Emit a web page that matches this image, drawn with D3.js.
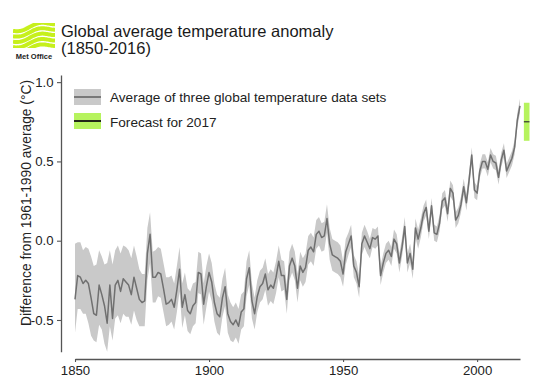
<!DOCTYPE html>
<html>
<head>
<meta charset="utf-8">
<script src="https://cdn.jsdelivr.net/npm/d3@7"></script>
<style>
html,body{margin:0;padding:0;background:#fff;}
text{font-family:"Liberation Sans",Arial,Helvetica,sans-serif;}
</style>
</head>
<body>
<script>
// ---------------- DATA ----------------
const startYear = 1850;
const meanAnomaly = [
-0.37,-0.22,-0.23,-0.27,-0.25,-0.27,-0.36,-0.46,-0.47,-0.28,
-0.34,-0.41,-0.52,-0.28,-0.49,-0.28,-0.25,-0.32,-0.24,-0.26,
-0.28,-0.34,-0.23,-0.30,-0.37,-0.39,-0.38,-0.08,0.04,-0.23,
-0.23,-0.20,-0.21,-0.30,-0.40,-0.39,-0.37,-0.42,-0.31,-0.18,
-0.42,-0.34,-0.44,-0.46,-0.41,-0.39,-0.20,-0.21,-0.40,-0.29,
-0.20,-0.26,-0.39,-0.46,-0.48,-0.36,-0.29,-0.46,-0.51,-0.53,
-0.50,-0.54,-0.45,-0.43,-0.24,-0.17,-0.38,-0.46,-0.35,-0.29,
-0.27,-0.21,-0.31,-0.28,-0.30,-0.23,-0.13,-0.22,-0.22,-0.37,
-0.16,-0.11,-0.16,-0.30,-0.16,-0.20,-0.17,-0.06,-0.04,-0.07,
0.04,0.06,0.02,0.03,0.14,-0.02,-0.09,-0.10,-0.11,-0.13,
-0.21,-0.07,-0.02,0.03,-0.16,-0.20,-0.29,-0.02,0.03,-0.01,
-0.05,0.02,0.01,0.03,-0.22,-0.14,-0.08,-0.06,-0.10,0.01,
-0.02,-0.14,-0.04,0.09,-0.14,-0.08,-0.18,0.08,0.01,0.08,
0.17,0.21,0.06,0.22,0.05,0.04,0.11,0.25,0.27,0.17,
0.33,0.30,0.13,0.16,0.23,0.34,0.24,0.38,0.54,0.32,
0.30,0.44,0.50,0.50,0.45,0.54,0.50,0.49,0.40,0.51,
0.57,0.44,0.48,0.52,0.59,0.76,0.85
];
// upper / lower extent of the uncertainty band (°C above / below the mean)
const bandUpper = [
0.35,0.21,0.22,0.21,0.21,0.22,0.26,0.30,0.32,0.22,
0.24,0.26,0.38,0.22,0.34,0.22,0.22,0.24,0.21,0.22,
0.22,0.23,0.20,0.20,0.19,0.18,0.17,0.16,0.14,0.16,
0.17,0.16,0.16,0.16,0.17,0.16,0.15,0.15,0.15,0.14,
0.15,0.14,0.14,0.14,0.14,0.13,0.13,0.13,0.13,0.13,
0.12,0.12,0.12,0.12,0.12,0.12,0.12,0.12,0.12,0.11,
0.11,0.11,0.11,0.11,0.11,0.11,0.11,0.10,0.10,0.10,
0.10,0.10,0.10,0.10,0.10,0.10,0.10,0.10,0.09,0.09,
0.09,0.09,0.09,0.09,0.09,0.09,0.09,0.09,0.09,0.09,
0.09,0.09,0.09,0.09,0.09,0.10,0.10,0.10,0.10,0.10,
0.08,0.08,0.07,0.07,0.07,0.07,0.07,0.07,0.07,0.07,
0.06,0.06,0.06,0.06,0.06,0.06,0.06,0.06,0.06,0.06,
0.06,0.06,0.06,0.06,0.06,0.06,0.06,0.06,0.06,0.06,
0.05,0.05,0.05,0.05,0.05,0.05,0.05,0.05,0.05,0.05,
0.05,0.05,0.05,0.05,0.05,0.05,0.05,0.05,0.05,0.05,
0.045,0.045,0.045,0.045,0.045,0.045,0.045,0.045,0.045,0.045,
0.045,0.045,0.045,0.045,0.045,0.045,0.045
];
const bandLower = [
0.21,0.21,0.20,0.19,0.21,0.25,0.24,0.17,0.17,0.25,
0.22,0.24,0.18,0.26,0.14,0.21,0.22,0.20,0.22,0.22,
0.20,0.19,0.21,0.20,0.17,0.15,0.16,0.17,0.18,0.16,
0.16,0.15,0.15,0.15,0.14,0.14,0.14,0.14,0.14,0.14,
0.13,0.13,0.13,0.13,0.13,0.13,0.13,0.13,0.13,0.13,
0.12,0.12,0.12,0.12,0.12,0.12,0.12,0.12,0.12,0.11,
0.11,0.11,0.11,0.11,0.11,0.11,0.11,0.10,0.10,0.10,
0.10,0.10,0.10,0.10,0.10,0.10,0.10,0.10,0.09,0.09,
0.09,0.09,0.09,0.09,0.09,0.09,0.09,0.09,0.09,0.09,
0.09,0.09,0.09,0.09,0.09,0.10,0.10,0.10,0.10,0.10,
0.08,0.08,0.07,0.07,0.07,0.07,0.07,0.07,0.07,0.07,
0.06,0.06,0.06,0.06,0.06,0.06,0.06,0.06,0.06,0.06,
0.06,0.06,0.06,0.06,0.06,0.06,0.06,0.06,0.06,0.06,
0.05,0.05,0.05,0.05,0.05,0.05,0.05,0.05,0.05,0.05,
0.05,0.05,0.05,0.05,0.05,0.05,0.05,0.05,0.05,0.05,
0.045,0.045,0.045,0.045,0.045,0.045,0.045,0.045,0.045,0.045,
0.045,0.045,0.045,0.045,0.045,0.045,0.045
];
const forecastYear = 2017;
const forecastValue = 0.75;
const forecastLow = 0.63;
const forecastHigh = 0.87;

const xTickValues = [1850, 1900, 1950, 2000];
const xTickLabels = ["1850", "1900", "1950", "2000"];
const yTickValues = [-0.5, 0.0, 0.5, 1.0];
const yTickLabels = ["-0.5", "0.0", "0.5", "1.0"];

const titleLines = ["Global average temperature anomaly", "(1850-2016)"];
const yLabel = "Difference from 1961-1990 average (\u00B0C)";
const legendLabels = ["Average of three global temperature data sets", "Forecast for 2017"];

// ---------------- CHART ----------------
const W = 553, H = 388;
const svg = d3.select("body").append("svg").attr("width", W).attr("height", H);

const rows = meanAnomaly.map((v, i) => ({
  year: startYear + i, v, hi: v + bandUpper[i], lo: v - bandLower[i]
}));

const x = d3.scaleLinear().domain([1850, 2016]).range([75, 520]);
const y = d3.scaleLinear().domain([-0.70, 1.045]).range([351.7, 75]);

const bandColor = "#c9c9c9", lineColor = "#707070", green = "#b6f35e", axisColor = "#555";
const tickFont = "13.2px";

// band
svg.append("path").datum(rows)
  .attr("fill", bandColor)
  .attr("d", d3.area().x(d => x(d.year)).y0(d => y(d.lo)).y1(d => y(d.hi)));
// mean line
svg.append("path").datum(rows)
  .attr("fill", "none").attr("stroke", lineColor).attr("stroke-width", 1.5)
  .attr("stroke-linejoin", "round")
  .attr("d", d3.line().x(d => x(d.year)).y(d => y(d.v)));

// forecast
const fx = x(forecastYear) + 4;
svg.append("rect").attr("x", fx - 2.8).attr("width", 5.6)
  .attr("y", y(forecastHigh)).attr("height", y(forecastLow) - y(forecastHigh)).attr("fill", green);
svg.append("line").attr("x1", fx - 2.8).attr("x2", fx + 2.8)
  .attr("y1", y(forecastValue)).attr("y2", y(forecastValue))
  .attr("stroke", "#333").attr("stroke-width", 1.2);

// axes
const xAxis = svg.append("g").attr("transform", "translate(0,359)")
  .call(d3.axisBottom(x).tickValues(xTickValues).tickFormat((d, i) => xTickLabels[i])
        .tickSize(3).tickSizeOuter(0).tickPadding(3.6));
const yAxis = svg.append("g").attr("transform", "translate(61,0)")
  .call(d3.axisLeft(y).tickValues(yTickValues).tickFormat((d, i) => yTickLabels[i])
        .tickSize(4).tickSizeOuter(0).tickPadding(3.5));
[xAxis, yAxis].forEach(g => {
  g.select(".domain").attr("stroke", axisColor).attr("stroke-width", 1.3);
  g.selectAll(".tick line").attr("stroke", axisColor).attr("stroke-width", 1.1);
  g.selectAll(".tick text").attr("fill", "#222").style("font-size", tickFont)
    .style("font-family", "'Liberation Sans',Arial,Helvetica,sans-serif");
});

// y label
svg.append("text").attr("transform", "translate(31,203) rotate(-90)")
  .attr("text-anchor", "middle").attr("fill", "#222").style("font-size", "13.8px")
  .text(yLabel);

// title
svg.append("text").attr("x", 61).attr("y", 37).attr("fill", "#1a1a1a").style("font-size", "16.5px")
  .selectAll("tspan").data(titleLines).join("tspan")
  .attr("x", 61).attr("dy", (d, i) => i ? 16.5 : 0).text(d => d);

// legend
const lg = svg.append("g");
lg.append("rect").attr("x", 74).attr("y", 89).attr("width", 27).attr("height", 16).attr("fill", bandColor);
lg.append("line").attr("x1", 74).attr("x2", 101).attr("y1", 97).attr("y2", 97)
  .attr("stroke", lineColor).attr("stroke-width", 1.8);
lg.append("rect").attr("x", 74).attr("y", 113).attr("width", 27).attr("height", 16).attr("fill", green);
lg.append("line").attr("x1", 74).attr("x2", 101).attr("y1", 121).attr("y2", 121)
  .attr("stroke", "#111").attr("stroke-width", 1.8);
lg.selectAll("text.lab").data(legendLabels).join("text").attr("class", "lab")
  .attr("x", 110).attr("y", (d, i) => 102 + i * 24.5).attr("fill", "#222")
  .style("font-size", "13.6px").text(d => d);

// Met Office logo
const logo = svg.append("g");
const clip = svg.append("clipPath").attr("id", "logoclip");
clip.append("rect").attr("x", 13).attr("y", 23).attr("width", 42).attr("height", 25);
const lg2 = logo.append("g").attr("clip-path", "url(#logoclip)");
for (let k = 0; k < 5; k++) {
  const p = d3.path();
  const base = 30 + k * 5.4;
  for (let t = 0; t <= 42; t += 1) {
    const xx = 13 + t;
    const yy = base - t * 0.18 + 2.2 * Math.sin((t / 42) * Math.PI * 2.2 + 0.4);
    if (t === 0) p.moveTo(xx, yy); else p.lineTo(xx, yy);
  }
  lg2.append("path").attr("d", p.toString()).attr("fill", "none")
    .attr("stroke", "#c6f01c").attr("stroke-width", 4);
}
logo.append("text").attr("x", 34).attr("y", 59).attr("text-anchor", "middle")
  .attr("fill", "#222").style("font-size", "7.5px").style("font-weight", "bold").text("Met Office");
</script>
</body>
</html>
